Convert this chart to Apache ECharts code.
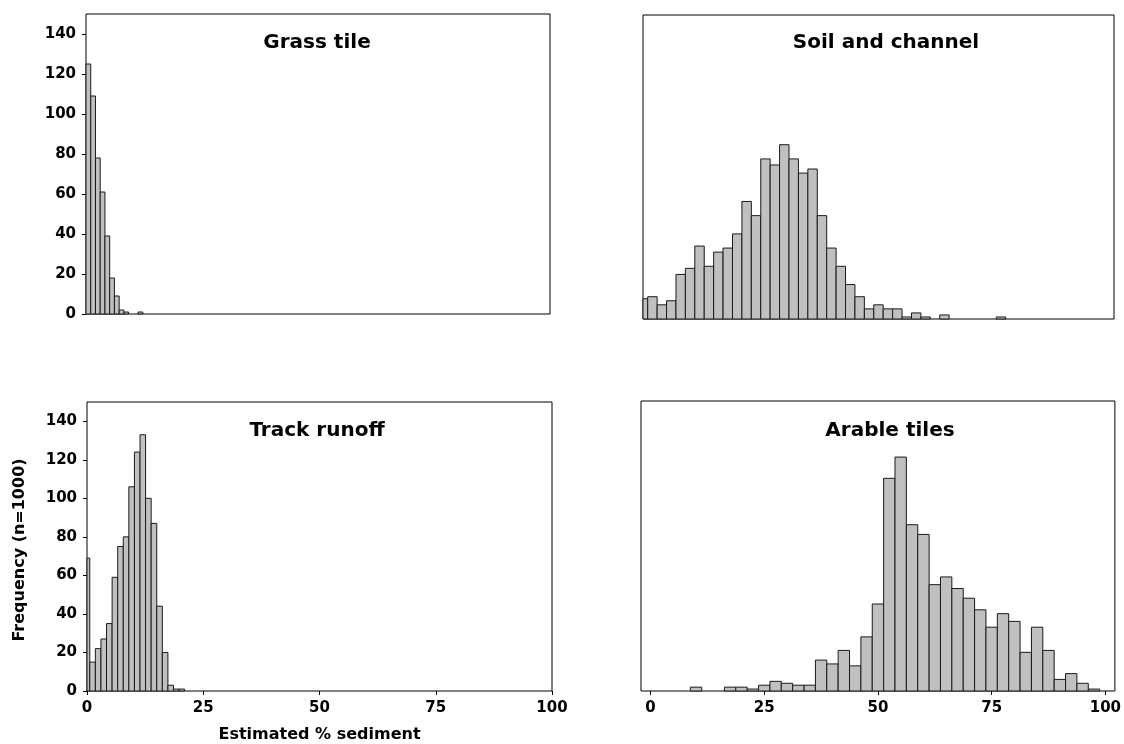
<!DOCTYPE html>
<html>
<head>
<meta charset="utf-8">
<script src="https://cdn.jsdelivr.net/npm/echarts@6/dist/echarts.min.js"></script>
<style>
  html, body { margin: 0; padding: 0; background: #fff; }
  #chart { width: 1124px; height: 744px; }
</style>
</head>
<body>
<div id="chart"></div>
<script>
// bin centres and counts
const grassBins = [0.5, 1.5, 2.5, 3.5, 4.5, 5.5, 6.5, 7.5, 8.5, 11.5]
const grassCounts = [125, 109, 78, 61, 39, 18, 9, 2, 1, 1]

const soilBins = [0, 2, 4, 6, 8, 10, 12, 14, 16, 18, 20, 22, 24, 26, 28, 30, 32, 34, 36, 38, 40, 42, 44, 46, 48, 50, 52, 54, 56, 58, 60, 64, 76]
const soilCounts = [10, 11, 7, 9, 22, 25, 36, 26, 33, 35, 42, 58, 51, 79, 76, 86, 79, 72, 74, 51, 35, 26, 17, 11, 5, 7, 5, 5, 1, 3, 1, 2, 1]

const trackBins = [0, 1.2, 2.4, 3.6, 4.8, 6, 7.2, 8.4, 9.6, 10.8, 12, 13.2, 14.4, 15.6, 16.8, 18, 19.2, 20.4]
const trackCounts = [69, 15, 22, 27, 35, 59, 75, 80, 106, 124, 133, 100, 87, 44, 20, 3, 1, 1]

const arableBins = [10, 17.5, 20, 22.5, 25, 27.5, 30, 32.5, 35, 37.5, 40, 42.5, 45, 47.5, 50, 52.5, 55, 57.5, 60, 62.5, 65, 67.5, 70, 72.5, 75, 77.5, 80, 82.5, 85, 87.5, 90, 92.5, 95, 97.5]
const arableCounts = [2, 2, 2, 1, 3, 5, 4, 3, 3, 16, 14, 21, 13, 28, 45, 110, 121, 86, 81, 55, 59, 53, 48, 42, 33, 40, 36, 20, 33, 21, 6, 9, 4, 1]

const xTicks = [0, 25, 50, 75, 100]
const yTicks = [0, 20, 40, 60, 80, 100, 120, 140]

const FONT = 'DejaVu Sans'

const histItem = (width) => (params, api) => {
  const cs = params.coordSys
  const x = api.value(0)
  const y = api.value(1)
  const p0 = api.coord([x - width / 2, 0])
  const p1 = api.coord([x + width / 2, y])
  const left = Math.max(p0[0], cs.x)
  const right = Math.min(p1[0], cs.x + cs.width)
  return {
    type: 'rect',
    shape: { x: left, y: p1[1], width: right - left, height: p0[1] - p1[1] },
    style: { fill: '#c0c0c0', stroke: '#1a1a1a', lineWidth: 1 }
  }
}

const pairs = (xs, ys) => xs.map((v, i) => [v, ys[i]])

const yAxisBase = (idx, labels) => ({
  type: 'value',
  gridIndex: idx,
  min: 0,
  max: 150,
  offset: labels ? 6 : 0,
  splitLine: { show: false },
  axisLine: { show: false },
  axisTick: { show: labels, length: 4, customValues: yTicks, lineStyle: { color: '#000' } },
  axisLabel: {
    show: labels,
    customValues: yTicks,
    margin: 4,
    color: '#000',
    fontFamily: FONT,
    fontWeight: 'bold',
    fontSize: 15
  }
})

const xAxisBase = (idx, min, max, labels) => ({
  type: 'value',
  gridIndex: idx,
  min: min,
  max: max,
  splitLine: { show: false },
  axisLine: { show: false },
  axisTick: { show: labels, length: 4, customValues: xTicks, lineStyle: { color: '#000' } },
  axisLabel: {
    show: labels,
    customValues: xTicks,
    margin: 10,
    color: '#000',
    fontFamily: FONT,
    fontWeight: 'bold',
    fontSize: 15
  }
})

const titleStyle = { color: '#000', fontFamily: FONT, fontWeight: 'bold', fontSize: 20 }

const chart = echarts.init(document.getElementById('chart'))
const option = {
  backgroundColor: '#fff',
  animation: false,
  title: [
    { text: 'Grass tile', left: 312, top: 28, textAlign: 'center', textStyle: titleStyle },
    { text: 'Soil and channel', left: 881, top: 28, textAlign: 'center', textStyle: titleStyle },
    { text: 'Track runoff', left: 312, top: 416, textAlign: 'center', textStyle: titleStyle },
    { text: 'Arable tiles', left: 885, top: 416, textAlign: 'center', textStyle: titleStyle }
  ],
  grid: [
    { left: 86, top: 14, width: 464, height: 300, show: true, borderColor: '#000', borderWidth: 1 },
    { left: 643, top: 15, width: 471, height: 304, show: true, borderColor: '#000', borderWidth: 1 },
    { left: 87, top: 402, width: 465, height: 292, show: true, borderColor: '#000', borderWidth: 1 },
    { left: 641, top: 401, width: 475, height: 290, show: true, borderColor: '#000', borderWidth: 1 }
  ],
  xAxis: [
    xAxisBase(0, 0, 98, false),
    xAxisBase(1, 0, 100, false),
    Object.assign(xAxisBase(2, 0, 100, true), {
      name: 'Estimated % sediment',
      nameLocation: 'middle',
      nameGap: 36,
      nameTextStyle: { color: '#000', fontFamily: FONT, fontWeight: 'bold', fontSize: 16 }
    }),
    xAxisBase(3, -2.1, 102.1, true)
  ],
  yAxis: [yAxisBase(0, true), yAxisBase(1, false), yAxisBase(2, true), yAxisBase(3, false)],
  graphic: [
    {
      type: 'text',
      x: 20,
      y: 550,
      rotation: Math.PI / 2,
      style: {
        text: 'Frequency (n=1000)',
        fill: '#000',
        font: 'bold 16px "DejaVu Sans"',
        align: 'center',
        verticalAlign: 'middle'
      }
    }
  ],
  series: [
    { type: 'custom', xAxisIndex: 0, yAxisIndex: 0, renderItem: histItem(1), data: pairs(grassBins, grassCounts) },
    { type: 'custom', xAxisIndex: 1, yAxisIndex: 1, renderItem: histItem(2), data: pairs(soilBins, soilCounts) },
    { type: 'custom', xAxisIndex: 2, yAxisIndex: 2, renderItem: histItem(1.2), data: pairs(trackBins, trackCounts) },
    { type: 'custom', xAxisIndex: 3, yAxisIndex: 3, renderItem: histItem(2.5), data: pairs(arableBins, arableCounts) }
  ]
}
option && chart.setOption(option)
</script>
</body>
</html>
